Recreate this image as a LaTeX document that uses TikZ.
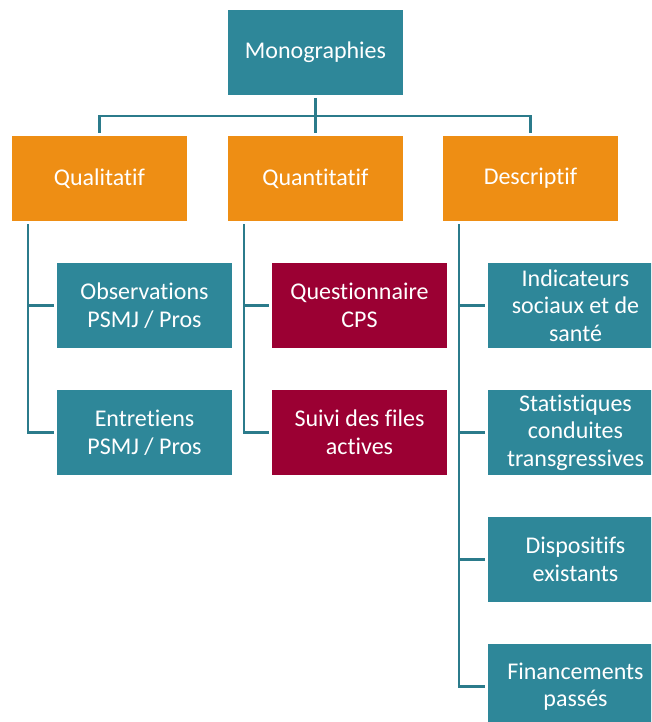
\documentclass[tikz,border=0pt]{standalone}
\usepackage{fontspec}
\setmainfont{Carlito}[Ligatures=NoCommon]
\definecolor{bleu}{HTML}{2E8799}
\definecolor{trait}{HTML}{2B7B8B}
\definecolor{orange}{HTML}{EE8E14}
\definecolor{bordeaux}{HTML}{9B0033}
\tikzset{
  boite/.style={minimum width=175pt, minimum height=85pt, inner sep=0pt, outer sep=3pt,
    align=center, text=white, font=\fontsize{24}{27.5}\selectfont},
  racine/.style={boite, fill=bleu},
  methode/.style={boite, fill=orange},
  outil/.style={boite, fill=bleu},
  quanti/.style={boite, fill=bordeaux},
  lien/.style={draw=trait, line width=2.6pt}
}
\begin{document}
\begin{tikzpicture}[x=1pt,y=1pt]
                \useasboundingbox (0,0) rectangle (651,-722);
                \clip (0,0) rectangle (651,-722);
                \node[racine] (mono) at (315.5,-52.5) {Monographies};
                \node[methode] (qual) at (99.5,-178.5) {Qualitatif};
                \node[methode] (quan) at (315.5,-178.5) {Quantitatif};
                \node[methode] (desc) at (530.5,-178.5) {Descriptif};
                \node[outil] (obs) at (144.5,-305.5) {Observations\\PSMJ / Pros};
                \node[outil] (entr) at (144.5,-432.5) {Entretiens\\PSMJ / Pros};
                \node[quanti] (quest) at (359.5,-305.5) {Questionnaire\\CPS};
                \node[quanti] (suivi) at (359.5,-432.5) {Suivi des files\\actives};
                \node[outil] (ind) at (575.5,-305.5) {Indicateurs\\sociaux et de\\santé};
                \node[outil] (stat) at (575.5,-432.5) {Statistiques\\conduites\\transgressives};
                \node[outil] (disp) at (575.5,-559.5) {Dispositifs\\existants};
                \node[outil] (fin) at (575.5,-686.5) {Financements\\passés};
                \coordinate (barre) at (315.5,-116);
                \draw[lien] (mono.south) -- (mono.south |- barre);
                \draw[lien] (qual.north) -- (qual.north |- barre) -| (desc.north);
                \draw[lien] (quan.north) -- (quan.north |- barre);
                \draw[lien] ([xshift=19pt]qual.south west) |- (obs.west);
                \draw[lien] ([xshift=19pt]qual.south west) |- (entr.west);
                \draw[lien] ([xshift=19pt]quan.south west) |- (quest.west);
                \draw[lien] ([xshift=19pt]quan.south west) |- (suivi.west);
                \draw[lien] ([xshift=19pt]desc.south west) |- (ind.west);
                \draw[lien] ([xshift=19pt]desc.south west) |- (stat.west);
                \draw[lien] ([xshift=19pt]desc.south west) |- (disp.west);
                \draw[lien] ([xshift=19pt]desc.south west) |- (fin.west);
\end{tikzpicture}
\end{document}
